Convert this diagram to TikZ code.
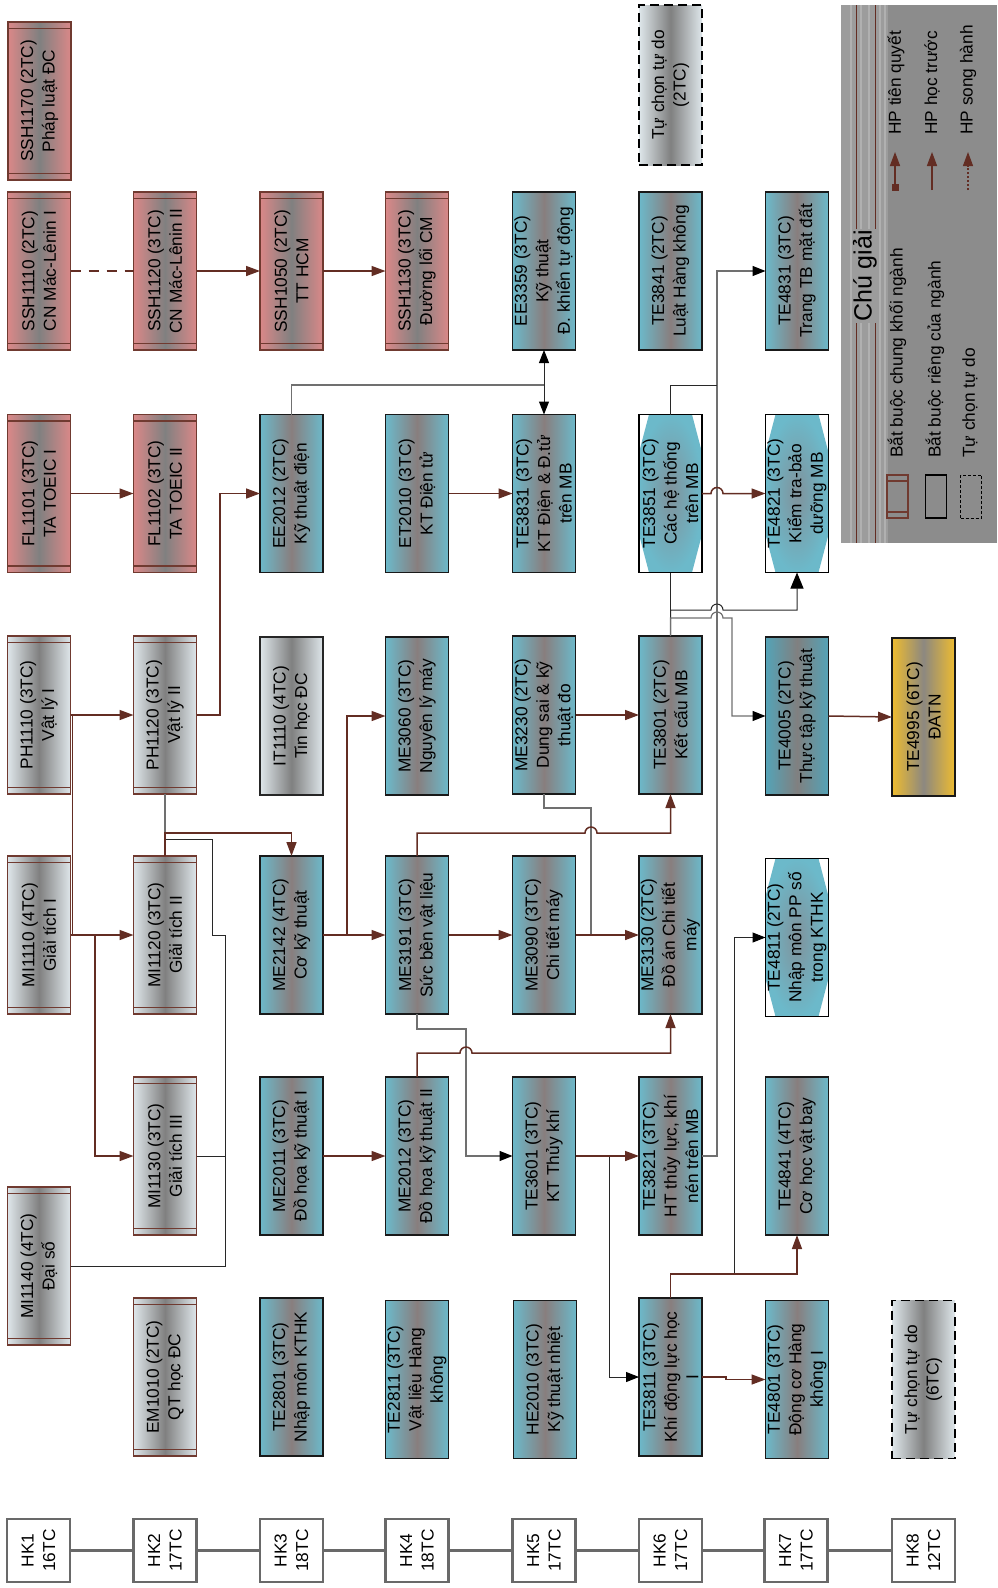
\documentclass[tikz,border=0pt]{standalone}
\usepackage{fontspec}
\setmainfont{Liberation Sans}
\usetikzlibrary{arrows.meta,calc}
\definecolor{maroonL}{RGB}{99,45,35}
\definecolor{genB}{RGB}{112,58,48}
\definecolor{pinkE}{RGB}{218,136,136}
\definecolor{silvE}{RGB}{222,230,234}
\definecolor{midG}{RGB}{128,128,128}
\definecolor{tealE}{RGB}{108,185,202}
\definecolor{tealM}{RGB}{136,126,126}
\definecolor{tealD}{RGB}{84,163,183}
\definecolor{goldE}{RGB}{238,188,48}
\definecolor{goldM}{RGB}{140,136,128}
\definecolor{hexIn}{RGB}{128,146,155}
\definecolor{hkG}{RGB}{105,105,105}
\definecolor{legG}{RGB}{140,140,140}
\definecolor{legS}{RGB}{156,156,156}
\definecolor{legL}{RGB}{176,176,176}
\definecolor{lineG}{RGB}{112,112,112}
\definecolor{lineK}{RGB}{40,40,40}
\newcommand\fs{\fontsize{17.3}{21.5}\selectfont}
\newcommand\mkc[4]{\node[#3] (#1) at (#2) {}; \node[lbl] (#1-t) at (#1.center) {#4};}
\begin{document}
\begin{tikzpicture}[x=1pt,y=-1pt,
 cbox/.style={minimum width=63pt,minimum height=158pt,inner sep=0pt,outer sep=0pt},
 lbl/.style={rotate=90,align=center,font=\fs,inner sep=0pt,text=black},
 genbars/.style={path picture={\draw[genB,line width=1.2pt] ([yshift=-#1]path picture bounding box.north west) -- ([yshift=-#1]path picture bounding box.north east) ([yshift=#1]path picture bounding box.south west) -- ([yshift=#1]path picture bounding box.south east);}},
 genbars/.default=6.5pt,
 genpink/.style={cbox,draw=genB,line width=1.2pt,left color=pinkE,right color=pinkE,middle color=midG,genbars},
 gensilv/.style={cbox,draw=genB,line width=1.2pt,left color=silvE,right color=silvE,middle color=midG,genbars},
 silvbox/.style={cbox,draw=black!85,line width=1.2pt,left color=silvE,right color=silvE,middle color=midG},
 tealbox/.style={cbox,draw=black!90,line width=1.3pt,left color=tealE,right color=tealE,middle color=tealM},
 tealdbox/.style={cbox,draw=black!90,line width=1.3pt,left color=tealD,right color=tealD,middle color=midG},
 goldbox/.style={cbox,draw=black!90,line width=1.3pt,left color=goldE,right color=goldE,middle color=goldM},
 tcbox/.style={cbox,draw=black,line width=1.5pt,dash pattern=on 9pt off 5pt,left color=silvE,right color=silvE,middle color=midG},
 hexbox/.style={cbox,draw=black,line width=1.3pt,fill=white,path picture={\shade[inner color=hexIn,outer color=tealE]
   ($(path picture bounding box.north west)+(10pt,0pt)$) -- ($(path picture bounding box.north east)+(-10pt,0pt)$) --
   ($(path picture bounding box.north east)+(0pt,-38pt)$) -- ($(path picture bounding box.south east)+(0pt,38pt)$) --
   ($(path picture bounding box.south east)+(-10pt,0pt)$) -- ($(path picture bounding box.south west)+(10pt,0pt)$) --
   ($(path picture bounding box.south west)+(0pt,38pt)$) -- ($(path picture bounding box.north west)+(0pt,-38pt)$) -- cycle;}},
 hkbox/.style={minimum width=63pt,minimum height=63pt,inner sep=0pt,draw=hkG,line width=2.6pt,fill=white},
 marl/.style={draw=maroonL,line width=1.5pt},
 mar/.style={marl,-{Triangle[length=14pt,width=10pt]}},
 blkl/.style={draw=lineK,line width=1pt},
 blk/.style={blkl,-{Triangle[length=13pt,width=10pt,color=black]}},
 gry/.style={draw=lineG,line width=1.2pt},
 gryk/.style={gry,-{Triangle[length=13pt,width=10pt,color=black]}},
]
\useasboundingbox (0,0) rectangle (998,1588);

% ---------- legend ----------
\node[fill=legG,minimum width=156pt,minimum height=538pt,inner sep=0pt,anchor=north west] (legend) at (841,5) {};
\fill[legS] (841,5) rectangle (888,543);
\foreach \xx in {851,861,869,880,885}{\draw[legL,line width=2pt] (\xx,5) -- (\xx,543);}
\draw[maroonL,line width=1.5pt] (856.5,5) -- (856.5,543) (875.5,5) -- (875.5,543);
\node[lbl,font=\fontsize{25}{28}\selectfont,fill=legS,inner sep=1.5pt] (legtitle) at (865,276) {Chú giải};
\node[draw=genB,line width=1.2pt,minimum width=21pt,minimum height=43pt,inner sep=0pt,genbars=6pt] (legb1) at (897.5,496.5) {};
\node[draw=black,line width=1.2pt,minimum width=21pt,minimum height=43pt,inner sep=0pt] (legb2) at (936,496.5) {};
\node[draw=black,line width=1pt,dash pattern=on 3pt off 2pt,minimum width=21pt,minimum height=43pt,inner sep=0pt] (legb3) at (971,496.5) {};
\node[lbl,anchor=west] (legt1) at (897,458) {Bắt buộc chung khối ngành};
\node[lbl,anchor=west] (legt2) at (935,458) {Bắt buộc riêng của ngành};
\node[lbl,anchor=west] (legt3) at (970,458) {Tự chọn tự do};
\coordinate (la1s) at (895,191); \coordinate (la1e) at (895,152);
\coordinate (la2s) at (932,190); \coordinate (la2e) at (932,152);
\coordinate (la3s) at (968,190); \coordinate (la3e) at (968,152);
\draw[marl,{Square[length=7pt,width=7pt]}-{Triangle[length=14pt,width=10pt]}] (la1s) -- (la1e);
\draw[mar] (la2s) -- (la2e);
\draw[maroonL,line width=1.2pt,dash pattern=on 2pt off 2pt,-{Triangle[length=14pt,width=10pt]}] (la3s) -- (la3e);
\node[lbl,anchor=west] (lega1) at (896,135) {HP tiên quyết};
\node[lbl,anchor=west] (lega2) at (932,135) {HP học trước};
\node[lbl,anchor=west] (lega3) at (968,135) {HP song hành};

% ---------- courses ----------
\mkc{SSH1170}{39.5,101}{genpink}{SSH1170 (2TC)\\Pháp luật ĐC}
\mkc{TCTD2}{670.5,85}{tcbox,minimum height=160pt}{Tự chọn tự do\\(2TC)}

\mkc{SSH1110}{39,271}{genpink}{SSH1110 (2TC)\\CN Mác-Lênin I}
\mkc{SSH1120}{165,271}{genpink}{SSH1120 (3TC)\\CN Mác-Lênin II}
\mkc{SSH1050}{291.5,271}{genpink}{SSH1050 (2TC)\\TT HCM}
\mkc{SSH1130}{417,271}{genpink}{SSH1130 (3TC)\\Đường lối CM}
\mkc{EE3359}{544,271}{tealbox}{EE3359 (3TC)\\Kỹ thuật\\Đ. khiển tự động}
\mkc{TE3841}{670.5,271}{tealbox}{TE3841 (2TC)\\Luật Hàng không}
\mkc{TE4831}{797,271}{tealbox}{TE4831 (3TC)\\Trang TB mặt đất}

\mkc{FL1101}{39,493.5}{genpink}{FL1101 (3TC)\\TA TOEIC I}
\mkc{FL1102}{165,493.5}{genpink}{FL1102 (3TC)\\TA TOEIC II}
\mkc{EE2012}{291.5,493.5}{tealbox}{EE2012 (2TC)\\Kỹ thuật điện}
\mkc{ET2010}{417,493.5}{tealbox}{ET2010 (3TC)\\KT Điện tử}
\mkc{TE3831}{544,493.5}{tealbox}{TE3831 (3TC)\\KT Điện \& Đ.tử\\trên MB}
\mkc{TE3851}{670.5,493.5}{hexbox}{TE3851 (3TC)\\Các hệ thống\\trên MB}
\mkc{TE4821}{797,493.5}{hexbox}{TE4821 (3TC)\\Kiểm tra-bảo\\dưỡng MB}

\mkc{PH1110}{39,715}{gensilv}{PH1110 (3TC)\\Vật lý I}
\mkc{PH1120}{165,715}{gensilv}{PH1120 (3TC)\\Vật lý II}
\mkc{IT1110}{291.5,716}{silvbox}{IT1110 (4TC)\\Tin học ĐC}
\mkc{ME3060}{417,716}{tealbox}{ME3060 (3TC)\\Nguyên lý máy}
\mkc{ME3230}{544,715}{tealbox}{ME3230 (2TC)\\Dung sai \& kỹ\\thuật đo}
\mkc{TE3801}{670.5,715}{tealbox}{TE3801 (2TC)\\Kết cấu MB}
\mkc{TE4005}{797,716}{tealdbox}{TE4005 (2TC)\\Thực tập kỹ thuật}
\mkc{TE4995}{923.5,717}{goldbox}{TE4995 (6TC)\\ĐATN}

\mkc{MI1110}{39,935}{gensilv}{MI1110 (4TC)\\Giải tích I}
\mkc{MI1120}{165,935}{gensilv}{MI1120 (3TC)\\Giải tích II}
\mkc{ME2142}{291.5,935}{tealbox}{ME2142 (4TC)\\Cơ kỹ thuật}
\mkc{ME3191}{417,935}{tealbox}{ME3191 (3TC)\\Sức bền vật liệu}
\mkc{ME3090}{544,935}{tealbox}{ME3090 (3TC)\\Chi tiết máy}
\mkc{ME3130}{670.5,935}{tealbox}{ME3130 (2TC)\\Đồ án Chi tiết\\máy}
\mkc{TE4811}{797,937.5}{hexbox}{TE4811 (2TC)\\Nhập môn PP số\\trong KTHK}

\mkc{MI1130}{165,1156}{gensilv}{MI1130 (3TC)\\Giải tích III}
\mkc{ME2011}{291.5,1156}{tealbox}{ME2011 (3TC)\\Đồ họa kỹ thuật I}
\mkc{ME2012}{417,1156}{tealbox}{ME2012 (3TC)\\Đồ họa kỹ thuật II}
\mkc{TE3601}{544,1156}{tealbox}{TE3601 (3TC)\\KT Thủy khí}
\mkc{TE3821}{670.5,1156}{tealbox}{TE3821 (3TC)\\HT thủy lực, khí\\nén trên MB}
\mkc{TE4841}{797,1156}{tealbox}{TE4841 (4TC)\\Cơ học vật bay}

\mkc{MI1140}{39,1266}{gensilv}{MI1140 (4TC)\\Đại số}

\mkc{EM1010}{165,1377}{gensilv}{EM1010 (2TC)\\QT học ĐC}
\mkc{TE2801}{291.5,1377}{tealbox}{TE2801 (3TC)\\Nhập môn KTHK}
\mkc{TE2811}{417,1379.5}{tealbox}{TE2811 (3TC)\\Vật liệu Hàng\\không}
\mkc{HE2010}{545,1379.5}{tealbox}{HE2010 (3TC)\\Kỹ thuật nhiệt}
\mkc{TE3811}{670.5,1377}{tealbox}{TE3811 (3TC)\\Khí động lực học\\I}
\mkc{TE4801}{797,1379.5}{tealbox}{TE4801 (3TC)\\Động cơ Hàng\\không I}
\mkc{TCTD6}{923.5,1379.5}{tcbox}{Tự chọn tự do\\(6TC)}

% ---------- semesters ----------
\foreach \i/\xx/\tc in {1/38.5/16,2/165/17,3/291.5/18,4/417/18,5/544/17,6/670.5/17,7/796/17,8/923.5/12}{
  \node[hkbox] (hk\i) at (\xx,1550.5) {};
  \node[lbl] (hk\i-t) at (hk\i.center) {HK\i\\\tc TC};
}
\foreach \i [evaluate=\i as \j using int(\i+1)] in {1,...,7}{
  \draw[hkG,line width=2.6pt] (hk\i.east) -- (hk\j.west);
}

% ---------- connectors ----------
\draw[gry] (PH1120.south) -- (MI1120.north);
\coordinate (j1) at (165,839);
\draw[blkl] (MI1140.east) -- (225,1266) -- (225,935) -- (212,935) -- (212,839) -- (j1);
\draw[blkl] (MI1130.east) -- (225,1156);
\draw[gry] (ME3230.south) -- (544,808) -- (591,808) -- (591,935);
\coordinate (j2) at (591,935); \coordinate (j3) at (609,935);
\draw[blkl] (j2) -- (j3);
\draw[gryk] (ME3191.south) -- (417,1029) -- (466,1029) -- (466,1156) -- (TE3601.west);
\draw[blk] (TE3601.east) -- (609,1156) -- (609,1377) -- (TE3811.west);
\draw[gryk] (TE3821.east) -- (717,1156) -- (717,271) -- (TE4831.west);
\draw[blkl] (TE3851.north) -- (670.5,385) -- (717,385);
\draw[blkl] (TE3801.north) -- (TE3851.south);
\draw[blkl,-{Triangle[length=16pt,width=13pt,color=black]}] (TE3801.north) -- (670.5,610) -- (711,610) arc[start angle=180,end angle=360,radius=6] -- (797,610) -- (TE4821.south);
\draw[gryk] (TE3801.north) -- (670.5,618) -- (711,618) arc[start angle=180,end angle=360,radius=6] -- (732,618) -- (732,716) -- (TE4005.west);
\draw[gry] (EE2012.north) -- (291.5,385) -- (544,385);
\draw[blk] (EE2012.north) ++(252.5,-31) -- (EE3359.south);
\draw[blk] (EE2012.north) ++(252.5,-31) -- (TE3831.north);
\coordinate (j4) at (734,1274);
\draw[blk] (j4) -- (734,937.5) -- (TE4811.west);

\draw[marl,dash pattern=on 10pt off 8pt] (SSH1110.east) -- (SSH1120.west);
\draw[mar] (SSH1120.east) -- (SSH1050.west);
\draw[mar] (SSH1050.east) -- (SSH1130.west);
\draw[mar] (FL1101.east) -- (FL1102.west);
\draw[mar] (PH1110.east) -- (PH1120.west);
\draw[marl] (MI1110.east) -- (72.5,935) -- (72.5,715);
\draw[mar] (MI1110.east) -- (MI1120.west);
\draw[mar] (MI1110.east) -- (95,935) -- (95,1156) -- (MI1130.west);
\draw[mar] (PH1120.east) -- (220,715) -- (220,493.5) -- (EE2012.west);
\draw[mar] (MI1120.north) -- (165,833) -- (291.5,833) -- (ME2142.north);
\draw[mar] (ME2142.east) -- (ME3191.west);
\draw[mar] (ME2142.east) -- (347,935) -- (347,716) -- (ME3060.west);
\draw[mar] (ME3191.east) -- (ME3090.west);
\draw[mar] (ME3090.east) -- (ME3130.west);
\draw[mar] (ME3191.north) -- (417,833) -- (585,833) arc[start angle=180,end angle=360,radius=6] -- (670.5,833) -- (TE3801.south);
\draw[mar] (ME2012.north) -- (417,1053) -- (460,1053) arc[start angle=180,end angle=360,radius=6] -- (670.5,1053) -- (ME3130.south);
\draw[mar] (ME2011.east) -- (ME2012.west);
\draw[mar] (TE3601.east) -- (TE3821.west);
\draw[mar] (TE3851.east) -- (711,493.5) arc[start angle=180,end angle=360,radius=6] -- (TE4821.west);
\draw[mar] (ET2010.east) -- (TE3831.west);
\draw[mar] (ME3230.east) -- (TE3801.west);
\draw[mar] (TE4005.east) -- (TE4995.west);
\draw[mar] (TE3811.north) -- (670.5,1274) -- (797,1274) -- (TE4841.south);
\draw[mar] (TE3811.east) -- (726,1377) -- (726,1379.5) -- (TE4801.west);
\end{tikzpicture}
\end{document}
